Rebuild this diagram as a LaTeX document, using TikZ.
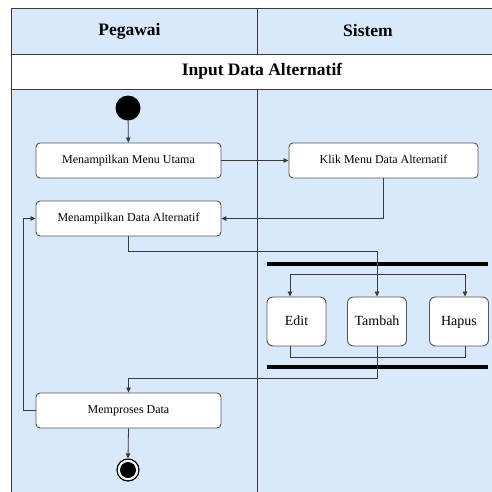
\documentclass[tikz,border=0pt]{standalone}
\usepackage{fontspec}
\setmainfont{Liberation Serif}
\usetikzlibrary{arrows.meta,calc}
\definecolor{lane}{HTML}{DAE8FC}
\definecolor{edge}{HTML}{3A3A3A}
\definecolor{boxline}{HTML}{555555}
\tikzset{
  act/.style={draw=boxline, line width=0.9pt, fill=white, rounded corners=4pt,
              minimum height=35pt, inner sep=0pt, text height=8.5pt, text depth=2.5pt,
              font=\fontsize{12}{14}\selectfont},
  smallact/.style={act, minimum width=59pt, minimum height=49pt,
                   rounded corners=6pt, text height=10pt, text depth=3pt,
                   font=\fontsize{14}{16}\selectfont},
  bar/.style={fill=black, inner sep=0pt, minimum width=221pt, minimum height=4.5pt},
  flow/.style={draw=edge, line width=0.8pt},
  arr/.style={flow, -{Triangle[length=5pt,width=4.5pt]}},
  lanetitle/.style={font=\fontsize{17.5}{20}\selectfont\bfseries},
}
\begin{document}
\begin{tikzpicture}[x=1pt,y=-1pt]
\useasboundingbox (0,0) rectangle (492,491);
\clip (0,0) rectangle (492,491);
\fill[white] (0,0) rectangle (492,491);

% swimlane frame
\fill[lane] (11,8) rectangle (520,54);
\fill[white] (11,54) rectangle (520,89);
\fill[lane] (11,89) rectangle (520,520);
\draw[edge, line width=1pt] (11,520) -- (11,8) -- (520,8);
\draw[edge, line width=1pt] (11,54) -- (520,54);
\draw[edge, line width=1pt] (11,89) -- (520,89);
\draw[edge, line width=1pt] (257,8) -- (257,54);
\draw[edge, line width=1pt] (257,89) -- (257,520);

\node[lanetitle] (hpeg) at (129.5,31) {Pegawai};
\node[lanetitle] (hsis) at (368,31) {Sistem};
\node[lanetitle] (htitle) at (262,71.5) {Input Data Alternatif};

% activities
\node[circle, fill=black, minimum size=25pt, inner sep=0pt] (start) at (128,108) {};
\node[act, minimum width=185pt] (mmu) at (128.5,160.5) {Menampilkan Menu Utama};
\node[act, minimum width=189pt] (klik) at (383.5,160.5) {Klik Menu Data Alternatif};
\node[act, minimum width=185pt] (mda) at (128.5,218.5) {Menampilkan Data Alternatif};
\node[bar] (fork) at (377.5,264) {};
\node[smallact] (edit) at (296.5,321.5) {Edit};
\node[smallact] (tambah) at (377,321.5) {Tambah};
\node[smallact] (hapus) at (459,321.5) {Hapus};
\node[bar] (join) at (377.5,367) {};
\node[act, minimum width=185pt] (proses) at (128.5,410.5) {Memproses Data};
\node[circle, draw=black, line width=1.2pt, fill=white, minimum size=22pt, inner sep=0pt] (end) at (128,470) {};
\fill[black] (end.center) circle (8pt);

% flows
\draw[arr] (start) -- (mmu);
\draw[arr] (mmu) -- (klik);
\draw[arr] (klik.south) |- (mda.east);
\draw[arr] (mda.south) -- ++(0,15) -| (tambah.north);
\draw[arr] (tambah.north |- fork.south) -- ++(0,8) -| ([xshift=-6.5pt]edit.north);
\draw[arr] (tambah.north |- fork.south) -- ++(0,8) -| ([xshift=6pt]hapus.north);
\draw[flow] ([xshift=-6.5pt]edit.south) -- ++(0,11) -| ([xshift=6pt]hapus.south);
\draw[arr] (tambah.south) -- ++(0,32) -| (proses.north);
\draw[arr] (proses.west) -- ++(-12,0) |- (mda.west);
\draw[arr] (proses.south) -- (end.north);
\end{tikzpicture}
\end{document}
